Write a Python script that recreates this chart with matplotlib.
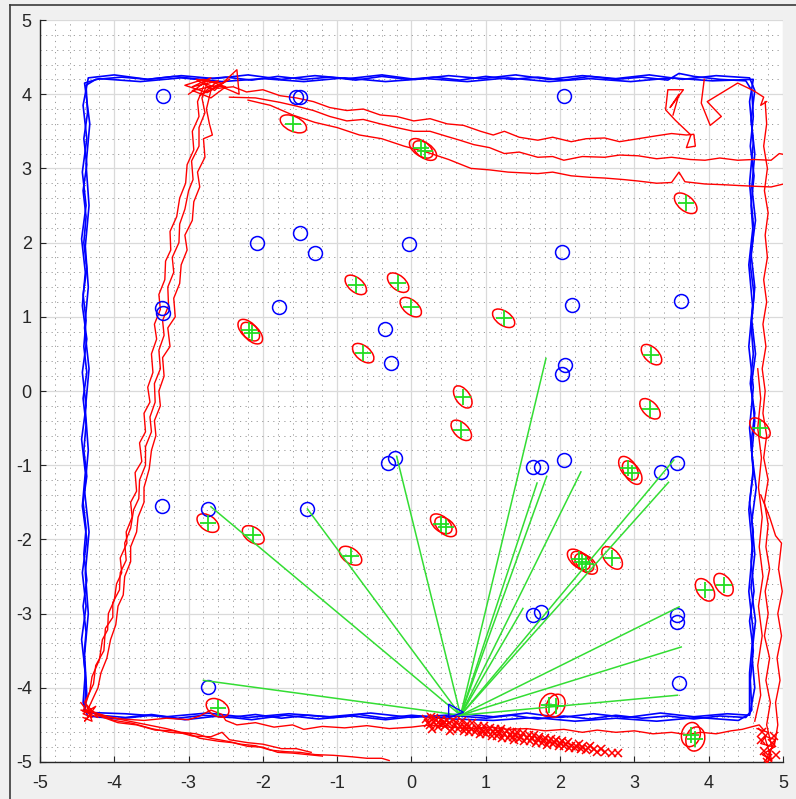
import matplotlib
matplotlib.use("Agg")
import matplotlib.pyplot as plt
from matplotlib.patches import Ellipse, Polygon
from matplotlib.lines import Line2D
import numpy as np

plt.rcParams['font.family'] = ['Liberation Sans', 'DejaVu Sans']
plt.rcParams['axes.unicode_minus'] = False

# ---------------- ground-truth trajectory (three laps) ----------------
true_lap1 = [(0.65,-4.38),(1.0,-4.41),(1.35,-4.37),(1.7,-4.42),(2.05,-4.38),(2.4,-4.42),(2.75,-4.37),(3.1,-4.41),
             (3.45,-4.38),(3.8,-4.42),(4.15,-4.38),(4.5,-4.4),(4.58,-4.3),
             (4.56,-3.9),(4.6,-3.5),(4.55,-3.1),(4.61,-2.7),(4.57,-2.3),(4.6,-1.9),(4.55,-1.5),(4.6,-1.1),(4.57,-0.7),
             (4.62,-0.3),(4.56,0.1),(4.6,0.5),(4.57,0.9),(4.61,1.3),(4.56,1.7),(4.6,2.1),(4.57,2.5),(4.61,2.9),
             (4.56,3.3),(4.6,3.7),(4.58,4.05),(4.5,4.18),
             (4.15,4.2),(3.8,4.24),(3.6,4.28),(3.45,4.19),(3.1,4.23),(2.75,4.2),(2.4,4.24),(2.05,4.19),(1.7,4.23),(1.35,4.2),
             (1.0,4.24),(0.65,4.19),(0.3,4.23),(-0.05,4.2),(-0.4,4.24),(-0.75,4.19),(-1.1,4.23),(-1.45,4.2),
             (-1.8,4.24),(-2.15,4.19),(-2.5,4.23),(-2.85,4.2),(-3.2,4.24),(-3.55,4.2),(-3.9,4.23),(-4.25,4.2),(-4.38,4.12),
             (-4.36,3.75),(-4.41,3.4),(-4.37,3.05),(-4.42,2.7),(-4.38,2.35),(-4.41,2.0),(-4.37,1.65),(-4.42,1.3),
             (-4.38,0.95),(-4.41,0.6),(-4.37,0.25),(-4.42,-0.1),(-4.38,-0.45),(-4.41,-0.8),(-4.37,-1.15),(-4.42,-1.5),
             (-4.38,-1.85),(-4.41,-2.2),(-4.37,-2.55),(-4.42,-2.9),(-4.38,-3.25),(-4.41,-3.6),(-4.38,-3.95),(-4.4,-4.3),
             (-4.2,-4.37),(-3.85,-4.4),(-3.5,-4.36),(-3.15,-4.41),(-2.8,-4.37),(-2.45,-4.4),(-2.1,-4.36),(-1.75,-4.41),
             (-1.4,-4.37),(-1.05,-4.4),(-0.7,-4.36),(-0.35,-4.41),(0.0,-4.37),(0.35,-4.4),(0.65,-4.38)]
true_lap2 = [(0.65,-4.35),(1.1,-4.39),(1.55,-4.34),(2.0,-4.4),(2.45,-4.35),(2.9,-4.4),(3.35,-4.34),(3.8,-4.39),
             (4.25,-4.35),(4.55,-4.37),
             (4.62,-4.0),(4.58,-3.55),(4.63,-3.1),(4.57,-2.65),(4.62,-2.2),(4.58,-1.75),(4.64,-1.3),(4.58,-0.85),
             (4.62,-0.4),(4.57,0.05),(4.63,0.5),(4.58,0.95),(4.62,1.4),(4.57,1.85),(4.63,2.3),(4.58,2.75),(4.62,3.2),
             (4.57,3.65),(4.62,4.05),(4.55,4.22),
             (4.1,4.25),(3.65,4.2),(3.2,4.26),(2.75,4.21),(2.3,4.25),(1.85,4.2),(1.4,4.26),(0.95,4.21),(0.5,4.25),
             (0.05,4.2),(-0.4,4.26),(-0.85,4.21),(-1.3,4.25),(-1.75,4.2),(-2.2,4.26),(-2.65,4.21),(-3.1,4.25),
             (-3.55,4.2),(-4.0,4.26),(-4.35,4.22),
             (-4.42,3.85),(-4.37,3.4),(-4.43,2.95),(-4.38,2.5),(-4.44,2.05),(-4.39,1.6),(-4.43,1.15),(-4.37,0.7),
             (-4.43,0.25),(-4.38,-0.2),(-4.44,-0.65),(-4.39,-1.1),(-4.43,-1.55),(-4.37,-2.0),(-4.43,-2.45),
             (-4.38,-2.9),(-4.44,-3.35),(-4.39,-3.8),(-4.42,-4.2),(-4.36,-4.38),
             (-3.95,-4.42),(-3.5,-4.37),(-3.05,-4.43),(-2.6,-4.38),(-2.15,-4.43),(-1.7,-4.37),(-1.25,-4.42),
             (-0.8,-4.38),(-0.35,-4.43),(0.1,-4.38),(0.55,-4.42)]
true_lap3 = [(0.55,-4.42),(1.1,-4.44),(1.65,-4.4),(2.2,-4.45),(2.75,-4.41),(3.3,-4.45),(3.85,-4.4),(4.4,-4.44),
             (4.55,-4.35),
             (4.55,-3.8),(4.6,-3.25),(4.54,-2.7),(4.59,-2.15),(4.54,-1.6),(4.6,-1.05),(4.55,-0.5),(4.6,0.05),
             (4.54,0.6),(4.59,1.15),(4.54,1.7),(4.6,2.25),(4.55,2.8),(4.6,3.35),(4.55,3.9),(4.6,4.2),
             (4.05,4.18),(3.5,4.22),(2.95,4.17),(2.4,4.21),(1.85,4.17),(1.3,4.22),(0.75,4.17),(0.2,4.21),
             (-0.35,4.17),(-0.9,4.22),(-1.45,4.17),(-2.0,4.21),(-2.55,4.17),(-3.1,4.22),(-3.65,4.17),(-4.2,4.21),
             (-4.4,4.15),
             (-4.33,3.6),(-4.38,3.05),(-4.34,2.5),(-4.39,1.95),(-4.35,1.4),(-4.4,0.85),(-4.34,0.3),(-4.39,-0.25),
             (-4.35,-0.8),(-4.4,-1.35),(-4.34,-1.9),(-4.39,-2.45),(-4.35,-3.0),(-4.4,-3.55),(-4.37,-4.1),(-4.4,-4.33),
             (-3.85,-4.35),(-3.3,-4.39),(-2.75,-4.34),(-2.2,-4.4),(-1.65,-4.35),(-1.1,-4.39),(-0.55,-4.34),
             (0.0,-4.4),(0.6,-4.36)]

# ---------------- estimated trajectory pieces ----------------
est_left1 = [(-4.42,-4.32),(-4.33,-4.05),(-4.3,-3.85),(-4.2,-3.62),(-4.16,-3.35),(-4.09,-3.22),(-4.08,-3.0),
             (-4.0,-2.82),(-3.97,-2.6),(-3.9,-2.45),(-3.92,-2.25),(-3.83,-2.05),(-3.84,-1.9),(-3.76,-1.7),
             (-3.78,-1.5),(-3.7,-1.35),(-3.72,-1.1),(-3.63,-0.95),(-3.66,-0.7),(-3.58,-0.55),(-3.6,-0.3),
             (-3.52,-0.15),(-3.55,0.05),(-3.48,0.25),(-3.5,0.5),(-3.43,0.7),(-3.46,0.9),(-3.38,1.1),(-3.4,1.3),
             (-3.32,1.5),(-3.31,1.75),(-3.24,1.9),(-3.25,2.15),(-3.16,2.35),(-3.12,2.6),(-3.04,2.8),(-3.02,3.05),
             (-2.93,3.25),(-2.95,3.5),(-2.86,3.7),(-2.88,3.9),(-2.8,4.1)]
est_left2 = [(-4.35,-4.28),(-4.22,-4.0),(-4.18,-3.8),(-4.1,-3.6),(-4.05,-3.35),(-3.98,-3.15),(-3.95,-2.9),
             (-3.88,-2.75),(-3.86,-2.5),(-3.78,-2.3),(-3.78,-2.1),(-3.7,-1.9),(-3.68,-1.7),(-3.6,-1.5),(-3.6,-1.3),
             (-3.53,-1.05),(-3.5,-0.8),(-3.44,-0.6),(-3.46,-0.4),(-3.38,-0.2),(-3.4,0.0),(-3.33,0.2),(-3.35,0.45),
             (-3.25,0.6),(-3.28,0.85),(-3.18,1.0),(-3.2,1.25),(-3.12,1.45),(-3.1,1.7),(-3.02,1.9),(-3.05,2.1),
             (-2.95,2.3),(-2.93,2.55),(-2.85,2.75),(-2.88,2.95),(-2.78,3.15),(-2.8,3.4),(-2.68,3.45),(-2.72,3.6),
             (-2.76,3.8),(-2.7,4.05)]
est_left3 = [(-4.4,-4.2),(-4.28,-3.95),(-4.25,-3.7),(-4.14,-3.5),(-4.12,-3.2),(-4.02,-3.05),(-4.02,-2.85),
             (-3.93,-2.68),(-3.92,-2.45),(-3.84,-2.28),(-3.86,-2.05),(-3.78,-1.85),(-3.74,-1.6),(-3.67,-1.45),
             (-3.66,-1.2),(-3.58,-1.0),(-3.58,-0.75),(-3.5,-0.55),(-3.52,-0.35),(-3.45,-0.15),(-3.46,0.1),
             (-3.38,0.3),(-3.4,0.55),(-3.33,0.75),(-3.35,0.95),(-3.27,1.15),(-3.28,1.4),(-3.2,1.6),(-3.22,1.8),
             (-3.13,2.0),(-3.12,2.25),(-3.05,2.45),(-3.0,2.7),(-2.94,2.85),(-2.96,3.1),(-2.86,3.3),(-2.86,3.55),
             (-2.78,3.75),(-2.82,3.95),(-2.75,4.15)]
est_corner_tl = [(-3.0,4.0),(-2.7,4.22),(-2.95,4.1),(-2.6,4.18),(-2.85,3.98),(-2.55,4.15),(-2.9,4.2),
                 (-2.65,4.05),(-2.35,4.33),(-2.32,4.0),(-2.6,4.12),(-2.95,4.05),(-2.7,3.95),(-2.5,4.1),(-2.8,4.2),
                 (-3.05,4.12),(-2.75,4.02),(-2.45,4.2)]
est_top1 = [(-2.8,4.15),(-2.6,4.08),(-2.4,4.1),(-2.22,4.03),(-2.0,4.06),(-1.77,3.98),(-1.55,3.95),(-1.32,3.9),
            (-1.1,3.82),(-0.87,3.78),(-0.65,3.8),(-0.42,3.72),(-0.2,3.7),(0.03,3.64),(0.25,3.67),(0.48,3.6),
            (0.7,3.58),(0.93,3.5),(1.1,3.45),(1.25,3.5),(1.45,3.42),(1.7,3.38),(1.9,3.42),(2.15,3.36),(2.35,3.4),
            (2.6,3.41),(2.8,3.36),(3.05,3.4),(3.3,3.44),(3.5,3.47),(3.7,3.45),(3.8,3.46),(3.82,3.3),(3.7,3.28),
            (3.76,3.45),(3.55,3.65),(3.42,3.79),(3.45,4.06),(3.66,4.06),(3.48,3.82),(3.6,4.0),(3.52,3.72)]
est_top2 = [(-2.45,3.96),(-2.1,3.95),(-1.77,3.89),(-1.55,3.84),(-1.32,3.78),(-1.1,3.7),(-0.87,3.64),(-0.65,3.66),
            (-0.42,3.6),(-0.2,3.55),(0.03,3.5),(0.25,3.5),(0.48,3.43),(0.65,3.38),(0.84,3.32),(1.05,3.28),
            (1.25,3.2),(1.45,3.22),(1.7,3.15),(1.9,3.16),(2.05,3.11),(2.3,3.16),(2.6,3.15),(2.8,3.18),(3.05,3.17),
            (3.3,3.13),(3.5,3.15),(3.75,3.12),(3.95,3.11),(4.15,3.14),(4.39,3.11),(4.6,3.12),(4.84,3.11),
            (4.95,3.2),(5.05,3.18)]
est_top3 = [(-2.2,3.92),(-1.9,3.85),(-1.6,3.72),(-1.3,3.62),(-1.0,3.55),(-0.7,3.45),(-0.4,3.4),(-0.1,3.3),
            (0.2,3.22),(0.5,3.12),(0.8,3.0),(1.05,2.98),(1.3,2.95),(1.7,2.93),(1.9,2.95),(2.15,2.9),(2.4,2.88),
            (2.6,2.87),(2.85,2.85),(3.05,2.83),(3.3,2.8),(3.5,2.81),(3.6,2.95),(3.68,2.82),(3.95,2.79),
            (4.2,2.78),(4.39,2.77),(4.6,2.76),(4.84,2.75),(5.05,2.8)]
est_zigzag_tr = [(3.94,4.2),(3.9,3.88),(4.02,3.58),(4.17,3.7),(3.98,3.9),(4.39,4.15),(4.6,4.05),(4.74,3.96),
                 (4.7,3.85),(4.78,3.9)]
est_right1 = [(4.76,3.9),(4.78,3.6),(4.74,3.3),(4.79,3.0),(4.75,2.7),(4.8,2.4),(4.76,2.1),(4.79,1.8),(4.74,1.5),
              (4.78,1.2),(4.73,0.9),(4.77,0.6),(4.72,0.3),(4.76,0.0),(4.73,-0.3),(4.78,-0.6),(4.74,-0.9),
              (4.8,-1.2),(4.75,-1.5),(4.8,-1.8),(4.77,-2.1),(4.82,-2.4),(4.76,-2.7),(4.8,-3.0),(4.75,-3.3),
              (4.82,-3.6),(4.77,-3.9),(4.83,-4.2),(4.78,-4.5),(4.85,-4.8),(4.8,-5.0)]
est_right2 = [(4.7,-1.4),(4.82,-1.7),(4.9,-1.95),(4.98,-2.05),(4.94,-2.4),(4.99,-2.7),(4.93,-3.0),(4.98,-3.3),
              (4.92,-3.6),(4.96,-3.9),(4.9,-4.2),(4.93,-4.5),(4.88,-4.8)]
est_right3 = [(4.62,-4.45),(4.7,-4.1),(4.66,-3.7),(4.72,-3.3),(4.67,-2.9),(4.73,-2.5),(4.68,-2.1),(4.72,-1.7),
              (4.67,-1.3),(4.71,-0.9),(4.66,-0.5),(4.7,-0.1),(4.66,0.3)]
est_corner_br = [(4.65,-4.55),(4.8,-4.6),(4.7,-4.75),(4.88,-4.8),(4.72,-4.9),(4.85,-4.98),(4.75,-4.65),
                 (4.9,-4.7),(4.78,-4.95)]
est_bottom = [(-4.35,-4.3),(-4.15,-4.38),(-3.9,-4.42),(-3.6,-4.44),(-3.3,-4.41),(-3.0,-4.43),(-2.85,-4.38),
              (-2.7,-4.3),(-2.55,-4.36),(-2.5,-4.44),(-2.35,-4.5),(-2.1,-4.47),(-1.85,-4.53),(-1.6,-4.5),
              (-1.45,-4.56),(-1.2,-4.52),(-0.9,-4.54),(-0.6,-4.51),(-0.3,-4.55),(0.0,-4.53),(0.25,-4.5),
              (0.5,-4.53),(0.8,-4.55),(1.05,-4.53),(1.3,-4.56),(1.55,-4.55),(1.8,-4.58),(2.05,-4.56),(2.3,-4.6),
              (2.5,-4.57),(2.75,-4.6),(3.0,-4.58),(3.25,-4.62),(3.5,-4.6),(3.7,-4.63),(3.9,-4.6),(4.1,-4.62),
              (4.3,-4.58),(4.45,-4.56),(4.6,-4.52),(4.68,-4.5),(4.75,-4.58)]
est_low1 = [(-4.3,-4.32),(-4.05,-4.4),(-3.8,-4.45),(-3.55,-4.5),(-3.3,-4.55),(-3.1,-4.6),(-2.9,-4.62),
            (-2.7,-4.68),(-2.48,-4.72),(-2.3,-4.76),(-2.1,-4.78),(-1.9,-4.84),(-1.7,-4.86),(-1.5,-4.87),
            (-1.3,-4.9),(-1.05,-4.91),(-0.8,-4.93),(-0.6,-4.95),(-0.4,-4.95),(-0.3,-4.98)]
est_low2 = [(-4.25,-4.36),(-4.0,-4.44),(-3.75,-4.48),(-3.5,-4.55),(-3.25,-4.6),(-3.0,-4.62),(-2.85,-4.68),
            (-2.6,-4.72),(-2.4,-4.74),(-2.2,-4.79),(-2.0,-4.8),(-1.8,-4.87),(-1.6,-4.88),(-1.4,-4.9),(-1.2,-4.92)]
est_low3 = [(-4.2,-4.38),(-3.95,-4.47),(-3.7,-4.5),(-3.45,-4.57),(-3.2,-4.58),(-2.95,-4.65),(-2.7,-4.66),
            (-2.55,-4.6),(-2.45,-4.7),(-2.2,-4.74),(-2.0,-4.76),(-1.75,-4.82),(-1.55,-4.82),(-1.35,-4.87)]
est_corner_bl = [(-4.45,-4.2),(-4.3,-4.4),(-4.42,-4.35),(-4.25,-4.25),(-4.4,-4.45),(-4.28,-4.32),(-4.45,-4.3),
                 (-4.22,-4.4),(-4.38,-4.22),(-4.3,-4.45),(-4.42,-4.4)]

# ---------------- particle set ----------------
particles = [(0.2,-4.42),(0.25,-4.5),(0.3,-4.46),(0.35,-4.53),(0.4,-4.44),(0.45,-4.51),(0.5,-4.48),(0.55,-4.55),
             (0.6,-4.46),(0.65,-4.52),(0.7,-4.58),(0.75,-4.49),(0.8,-4.55),(0.85,-4.6),(0.9,-4.51),(0.95,-4.57),
             (1.0,-4.62),(1.05,-4.54),(1.1,-4.6),(1.15,-4.65),(1.2,-4.56),(1.25,-4.62),(1.3,-4.67),(1.35,-4.59),
             (1.4,-4.64),(1.45,-4.69),(1.5,-4.61),(1.55,-4.67),(1.6,-4.72),(1.65,-4.64),(1.7,-4.7),(1.75,-4.74),
             (1.8,-4.67),(1.85,-4.72),(1.9,-4.76),(1.95,-4.7),(2.0,-4.75),(2.05,-4.79),(2.1,-4.73),(2.15,-4.78),
             (2.2,-4.81),(2.25,-4.76),(2.3,-4.8),(2.35,-4.84),(2.4,-4.79),(2.45,-4.83),(2.5,-4.86),(2.55,-4.82),
             (2.6,-4.86),(2.7,-4.88),(2.78,-4.88),
             (0.3,-4.41),(0.42,-4.49),(0.58,-4.5),(0.72,-4.53),(0.88,-4.56),(1.02,-4.58),(1.18,-4.61),(1.32,-4.63),
             (1.48,-4.66),(1.62,-4.68),(1.78,-4.71),(1.92,-4.73),(2.08,-4.76),(2.22,-4.78),(2.38,-4.81),
             (0.22,-4.47),(0.28,-4.55),(0.33,-4.43),(0.38,-4.49),(0.48,-4.43),(0.52,-4.58),(0.62,-4.55),
             (0.68,-4.45),(0.78,-4.6),(0.82,-4.48),(0.92,-4.62),(0.98,-4.52),(1.08,-4.65),(1.12,-4.55),
             (1.22,-4.68),(1.28,-4.58),(1.38,-4.7),(1.42,-4.6),(1.52,-4.72),(1.58,-4.63),(1.68,-4.75),
             (1.72,-4.66),(1.82,-4.77),(1.88,-4.69),(1.98,-4.79),(2.02,-4.72),(2.12,-4.81),(2.28,-4.83),
             (0.26,-4.4),(0.44,-4.46),(0.56,-4.44),(0.74,-4.56),(0.96,-4.6),(1.16,-4.58),(1.36,-4.66),
             (4.7,-4.7),(4.75,-4.85),(4.8,-4.95),(4.85,-4.75),(4.9,-4.9),(4.78,-5.0),(4.72,-4.6),(4.88,-4.65)]

# ---------------- landmarks ----------------
lm_true_x = [-3.34,-1.56,-1.50,2.05,-2.08,-1.50,-1.30,-0.03,2.02,2.16,3.63,-3.36,-3.34,-1.79,-0.35,-0.27,2.07,2.03,
             -0.31,-0.22,1.63,1.74,2.05,3.36,3.58,-3.36,-2.74,-1.40,1.63,1.74,3.58,3.58,-2.74,3.60]
lm_true_y = [3.98,3.96,3.96,3.98,2.00,2.13,1.86,1.98,1.87,1.16,1.21,1.12,1.05,1.13,0.84,0.38,0.35,0.23,
             -0.97,-0.90,-1.02,-1.02,-0.93,-1.09,-0.97,-1.55,-1.59,-1.59,-3.02,-2.98,-3.02,-3.11,-3.99,-3.94]

lm_est_x = [-1.59,0.13,0.18,3.69,-0.75,-0.18,-0.01,1.24,-2.19,-2.15,-0.65,3.23,3.21,0.69,0.67,4.69,2.92,2.97,
            0.40,0.46,-2.74,-2.13,-0.82,2.25,2.30,2.35,2.70,3.95,4.20,1.85,1.94,-2.61,3.76,3.82]
lm_est_y = [3.60,3.27,3.24,2.53,1.43,1.46,1.13,0.98,0.82,0.78,0.51,0.49,-0.24,-0.08,-0.53,-0.50,-1.04,-1.10,
            -1.79,-1.83,-1.78,-1.94,-2.22,-2.27,-2.30,-2.33,-2.25,-2.68,-2.61,-4.23,-4.24,-4.27,-4.63,-4.69]
cov_w = [0.38,0.36,0.36,0.36,0.34,0.34,0.34,0.34,0.36,0.36,0.34,0.34,0.34,0.34,0.34,0.34,0.36,0.36,
         0.34,0.34,0.33,0.33,0.34,0.36,0.36,0.36,0.36,0.34,0.34,0.32,0.32,0.33,0.33,0.33]
cov_h = [0.2,0.2,0.2,0.2,0.19,0.19,0.19,0.19,0.2,0.2,0.19,0.19,0.19,0.19,0.19,0.19,0.2,0.2,
         0.2,0.2,0.2,0.2,0.2,0.2,0.2,0.2,0.2,0.21,0.21,0.24,0.24,0.22,0.25,0.25]
cov_ang = [-25,-35,-35,-40,-40,-40,-40,-35,-45,-45,-40,-45,-45,-55,-45,-45,-55,-55,
           -40,-40,-35,-35,-35,-40,-40,-40,-50,-55,-55,65,65,-30,75,75]

# ---------------- current robot pose and observations ----------------
robot_x, robot_y = 0.66, -4.37
robot_shape = [(0.50, -4.22), (0.50, -4.40), (0.70, -4.33)]
obs_x = [-2.70,-1.40,-2.80,-0.20,1.81,1.69,1.82,2.28,3.46,3.53,1.50,3.60,3.63,3.58]
obs_y = [-1.56,-1.59,-3.90,-0.88,0.44,-1.24,-1.15,-1.09,-1.23,-0.93,-2.93,-2.91,-3.45,-4.10]

tick_vals = [-5, -4, -3, -2, -1, 0, 1, 2, 3, 4, 5]

# ---------------- figure ----------------
fig = plt.figure(figsize=(7.96, 7.99), dpi=100, facecolor='#f0f0f0')
ax = fig.add_axes([40/796, 37/799, 743/796, 742/799])
ax.set_facecolor('white')

BLUE = '#0000ff'
RED = '#ff0000'
GREEN = '#33dd33'

for lap in (true_lap1, true_lap2, true_lap3):
    xs, ys = zip(*lap)
    ax.plot(xs, ys, color=BLUE, lw=1.2, zorder=3)

for seg in (est_left1, est_left2, est_left3, est_corner_tl, est_top1, est_top2, est_top3, est_zigzag_tr,
            est_right1, est_right2, est_right3, est_corner_br, est_bottom, est_low1, est_low2, est_low3,
            est_corner_bl):
    xs, ys = zip(*seg)
    ax.plot(xs, ys, color=RED, lw=1.0, zorder=4)

px, py = zip(*particles)
ax.plot(px, py, linestyle='none', marker='x', color=RED, ms=6, mew=1.1, zorder=5)

for x, y, w, h, a in zip(lm_est_x, lm_est_y, cov_w, cov_h, cov_ang):
    ax.add_patch(Ellipse((x, y), w, h, angle=a, fill=False, ec=RED, lw=1.1, zorder=6))

ax.plot(lm_true_x, lm_true_y, linestyle='none', marker='o', ms=10, mfc='none', mec=BLUE, mew=1.1, zorder=6)

for ox, oy in zip(obs_x, obs_y):
    ax.plot([robot_x, ox], [robot_y, oy], color=GREEN, lw=1.1, zorder=7)

ax.plot(lm_est_x, lm_est_y, linestyle='none', marker='+', ms=11, mec='#22dd22', mew=1.3, zorder=8)
ax.add_patch(Polygon(robot_shape, closed=True, fill=False, ec=BLUE, lw=1.0, zorder=8))

ax.set_xlim(-5, 5)
ax.set_ylim(-5, 5)
ax.set_xticks(tick_vals)
ax.set_yticks(tick_vals)
ax.set_xticks(np.arange(-5, 5.01, 0.2), minor=True)
ax.set_yticks(np.arange(-5, 5.01, 0.2), minor=True)
ax.grid(which='major', color='#dadada', lw=0.9, zorder=0)
ax.grid(which='minor', color='#9a9a9a', lw=0.7, linestyle=(0, (1.2, 4.5)), zorder=0)
ax.set_axisbelow(True)
for s in ('top', 'right'):
    ax.spines[s].set_visible(False)
for s in ('left', 'bottom'):
    ax.spines[s].set_color('#262626')
    ax.spines[s].set_linewidth(1.0)
ax.tick_params(which='major', direction='in', length=4, width=0.8, color='#262626',
               labelsize=13, labelcolor='#262626', top=False, right=False)
ax.tick_params(axis='x', pad=9)
ax.tick_params(axis='y', pad=6)
ax.tick_params(which='minor', length=0)

# window frame edges
fig.add_artist(Line2D([10/796, 10/796], [0, 1 - 5/799], color='#3a3a3a', lw=1.2))
fig.add_artist(Line2D([10/796, 1], [1 - 5/799, 1 - 5/799], color='#3a3a3a', lw=1.2))

fig.savefig('out.png', dpi=100, facecolor=fig.get_facecolor())
